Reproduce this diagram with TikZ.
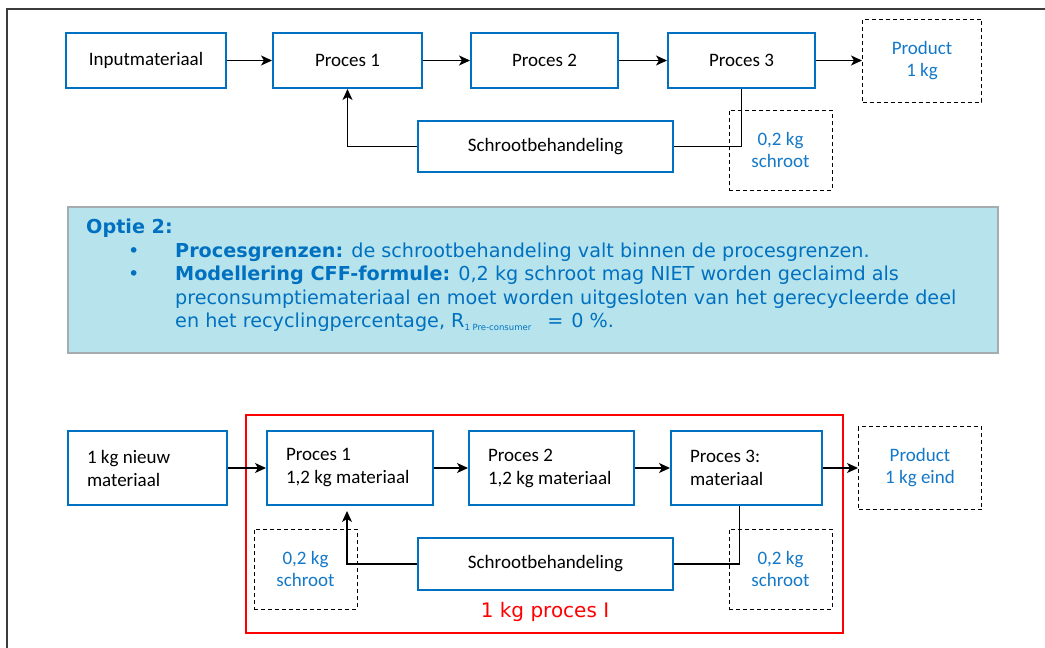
\documentclass[tikz,border=0pt]{standalone}
\usepackage{fontspec}
\setmainfont{Carlito}
\newfontfamily\optiefont{DejaVu Sans}
\usetikzlibrary{arrows.meta,positioning}
\definecolor{boxBlue}{RGB}{0,112,192}
\definecolor{textBlue}{RGB}{20,120,200}
\definecolor{optieColor}{RGB}{183,228,236}
\definecolor{optieBorder}{RGB}{165,172,176}
\definecolor{frameColor}{RGB}{60,60,60}
\definecolor{grensColor}{RGB}{255,0,0}
\tikzset{procbox/.style={draw=boxBlue, line width=2pt, fill=white, align=center, minimum width=149pt, minimum height=55pt, inner sep=0pt, font=\fontsize{19}{23}\selectfont}}
\tikzset{matbox/.style={procbox, align=flush left, minimum height=74pt, inner xsep=19pt, text width=#1}}
\tikzset{dashbox/.style={draw, line width=1pt, dash pattern=on 4pt off 3pt, text=textBlue, align=center, minimum width=103pt, minimum height=80pt, inner sep=0pt, font=\fontsize{19}{22}\selectfont}}
\tikzset{flow/.style={line width=1.2pt, -{Stealth[length=11pt, width=10pt, inset=3pt]}}}

\begin{document}
\begin{tikzpicture}[x=1pt, y=-1pt, node distance=45pt]
\useasboundingbox (0,0) rectangle (1045,648);
\clip (0,0) rectangle (1045,648);
\draw [frameColor, line width=1.3pt] (7,9) rectangle (1070,670);

% Nodes (optie 1)
\node (inputA) [procbox, minimum width=160pt] at (146,60.5) {Inputmateriaal};
\node (proces1A) [procbox, right=of inputA] {Proces 1};
\node (proces2A) [procbox, right=47pt of proces1A, minimum width=147pt] {Proces 2};
\node (proces3A) [procbox, right=48pt of proces2A, minimum width=147pt] {Proces 3};
\node (productA) [dashbox, right=46pt of proces3A, minimum width=119pt, minimum height=83pt] {Product\\ 1 kg};
\node (schrootA) [procbox, minimum width=255pt, minimum height=51pt] at (545.5,146.5) {Schrootbehandeling};
\node (restA) [dashbox] at (780.5,150) {0,2 kg\\ schroot};

% Optie 2
\node (optie) [draw=optieBorder, line width=1.2pt, fill=optieColor, minimum width=930pt, minimum height=146pt] at (533,280) {};
\node (optieTekst) [anchor=north west, align=left, inner sep=0pt, text=boxBlue, font=\optiefont\fontsize{19.2}{23.5}\selectfont] at (86,219) {\textbf{Optie 2:}\\
\hspace*{42pt}\makebox[47pt][l]{•}\textbf{Procesgrenzen:} de schrootbehandeling valt binnen de procesgrenzen.\\
\hspace*{42pt}\makebox[47pt][l]{•}\textbf{Modellering CFF-formule:} 0,2 kg schroot mag NIET worden geclaimd als\\
\hspace*{89pt}preconsumptiemateriaal en moet worden uitgesloten van het gerecycleerde deel\\
\hspace*{89pt}en het recyclingpercentage, R\raisebox{-3pt}{\fontsize{8.5}{8.5}\selectfont 1 Pre-consumer}\hspace{16pt}=\hspace{8pt}0\hspace{6pt}\%.};

% Nodes (1 kg proces I)
\node (grens) [draw=grensColor, line width=2pt, minimum width=597pt, minimum height=218pt, inner sep=0pt] at (544.5,524) {};
\node (grensLabel) [text=grensColor, font=\optiefont\fontsize{20}{24}\selectfont] at (545,612) {1 kg proces I};
\node (nieuwB) [matbox=121pt] at (147.5,468) {1 kg nieuw\\ materiaal};
\node (proces1B) [matbox=128pt, right=38pt of nieuwB] {Proces 1\\ 1,2 kg materiaal};
\node (proces2B) [matbox=127pt, right=34pt of proces1B] {Proces 2\\ 1,2 kg materiaal};
\node (proces3B) [matbox=113pt, right=35pt of proces2B] {Proces 3:\\ materiaal};
\node (productB) [dashbox, right=35pt of proces3B, minimum width=123pt, minimum height=83pt] {Product\\ 1 kg eind};
\node (schrootB) [procbox, minimum width=255pt, minimum height=52pt] at (545.5,564) {Schrootbehandeling};
\node (restB1) [dashbox] at (305.5,569) {0,2 kg\\ schroot};
\node (restB2) [dashbox] at (780.5,569) {0,2 kg\\ schroot};

% Connectors
\begin{scope}[flow]
\draw (inputA) -- (proces1A);
\draw (proces1A) -- (proces2A);
\draw (proces2A) -- (proces3A);
\draw (proces3A) -- (productA);
\draw (schrootA.west) -| (proces1A.south);

\draw (nieuwB) -- (proces1B);
\draw (proces1B) -- (proces2B);
\draw (proces2B) -- (proces3B);
\draw (proces3B) -- (productB);
\draw [shorten >=5pt] (schrootB.west) -| ([xshift=-3pt]proces1B.south);
\end{scope}
\draw [line width=1.2pt] (proces3A.south) |- (schrootA.east);
\draw [line width=1.2pt] ([xshift=-7pt]proces3B.south) |- (schrootB.east);

\end{tikzpicture}
\end{document}
